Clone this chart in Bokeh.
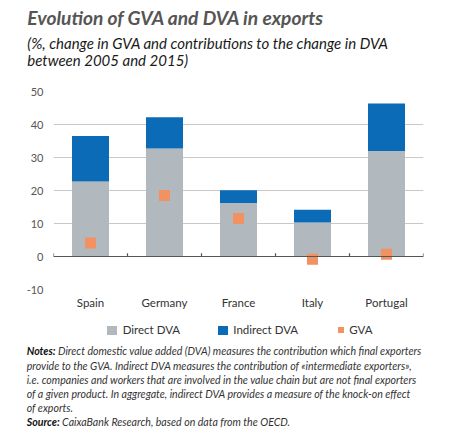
from bokeh.plotting import figure
from bokeh.layouts import column
from bokeh.models import (ColumnDataSource, Range1d, FactorRange, FixedTicker, Span, Div)
from bokeh.transform import dodge
from bokeh.embed import file_html
from bokeh.resources import INLINE

countries = ["Spain", "Germany", "France", "Italy", "Portugal"]
direct_dva = [22.7, 32.7, 16.2, 10.3, 32.0]
indirect_dva = [13.8, 9.5, 3.9, 3.9, 14.4]
gva = [4.1, 18.5, 11.5, -0.8, 0.7]
y_ticks = [-10, 0, 10, 20, 30, 40, 50]
series_names = ["Direct DVA", "Indirect DVA", "GVA"]

title_text = "Evolution of GVA and DVA in exports"
subtitle_lines = ["(%, change in GVA and contributions to the change in DVA",
                  "between 2005 and 2015)"]
notes_lines = [
    ("Notes:", " Direct domestic value added (DVA) measures the contribution which final exporters"),
    ("", "provide to the GVA. Indirect DVA measures the contribution of «intermediate exporters»,"),
    ("", "i.e. companies and workers that are involved in the value chain but are not final exporters"),
    ("", "of a given product. In aggregate, indirect DVA provides a measure of the knock-on effect"),
    ("", "of exports."),
    ("Source:", " CaixaBank Research, based on data from the OECD."),
]

GREY = "#b1b9be"
BLUE = "#0b6bb6"
ORANGE = "#f29162"
series_colors = [GREY, BLUE, ORANGE]

src = ColumnDataSource(dict(country=countries, direct=direct_dva,
                            indirect=indirect_dva, gva=gva))
last_src = ColumnDataSource(dict(country=countries[-1:]))

p = figure(width=474, height=245,
           x_range=FactorRange(*countries), y_range=Range1d(-10, 50),
           output_backend="svg", toolbar_location=None,
           min_border_left=53, min_border_right=51,
           min_border_top=21, min_border_bottom=26)
p.outline_line_color = None

bars = p.vbar_stack(["direct", "indirect"], x="country", width=0.5,
                    color=[GREY, BLUE], line_width=0, source=src)
pts = p.scatter(x="country", y="gva", marker="square", size=11,
                color=ORANGE, line_width=0, source=src)

p.add_layout(Span(location=0, dimension="width", line_color="#555555", line_width=1.2))
p.segment(x0=dodge("country", -0.5, range=p.x_range), y0=0,
          x1=dodge("country", -0.5, range=p.x_range), y1=1,
          line_color="#555555", line_width=1.2, source=src)
p.segment(x0=dodge("country", 0.5, range=p.x_range), y0=0,
          x1=dodge("country", 0.5, range=p.x_range), y1=1,
          line_color="#555555", line_width=1.2, source=last_src)

p.xgrid.visible = False
p.ygrid.ticker = FixedTicker(ticks=y_ticks)
p.ygrid.grid_line_color = "#c9c9c9"

p.yaxis.ticker = FixedTicker(ticks=y_ticks)
p.yaxis.major_label_overrides = {-10: "-10"}
p.yaxis.axis_line_color = None
p.yaxis.major_tick_line_color = None
p.yaxis.minor_tick_line_color = None
p.yaxis.major_tick_out = 0
p.yaxis.major_tick_in = 0
p.yaxis.major_label_standoff = 10
p.yaxis.major_label_text_font = "Lato"
p.yaxis.major_label_text_font_size = "11px"
p.yaxis.major_label_text_color = "#555555"

p.xaxis.axis_line_color = None
p.xaxis.major_tick_line_color = None
p.xaxis.major_tick_out = 0
p.xaxis.major_tick_in = 0
p.xaxis.major_label_standoff = 6
p.xaxis.major_label_text_font = "Lato"
p.xaxis.major_label_text_font_size = "11.5px"
p.xaxis.major_label_text_color = "#333333"


def abs_line(text, left, top, size, weight, color, font="Lato"):
    return (f'<div style="position:absolute;left:{left}px;top:{top}px;'
            f'font-family:{font};font-size:{size}px;line-height:1;'
            f'font-weight:{weight};font-style:italic;color:{color};'
            f'white-space:nowrap;">{text}</div>')


def abs_box(left, top, w, h, color):
    return (f'<div style="position:absolute;left:{left}px;top:{top}px;'
            f'width:{w}px;height:{h}px;background:{color};"></div>')


def abs_text(text, left, top, size, color):
    return (f'<div style="position:absolute;left:{left}px;top:{top}px;'
            f'font-family:Lato;font-size:{size}px;line-height:1;'
            f'color:{color};white-space:nowrap;">{text}</div>')


title_html = ('<div style="position:relative;width:474px;height:70px;">'
              + abs_line(title_text, 27.3, 8.3, 19.2, "bold", "#555555")
              + abs_line(subtitle_lines[0], 27.3, 36.4, 15, "normal", "#1a1a1a")
              + abs_line(subtitle_lines[1], 27.3, 53.4, 15, "normal", "#1a1a1a")
              + '</div>')
title_div = Div(text=title_html, width=474, height=70, margin=0)

# legend strip (canvas y 315..344)
legend_boxes = [(107.3, 10.7, 10, 9.3), (217.7, 10.7, 10, 9.3), (338.3, 12.4, 6, 6)]
legend_text_x = [122.7, 233.3, 349.3]
leg = ['<div style="position:relative;width:474px;height:29px;">']
for name, col, (bx, by, bw, bh), tx in zip(series_names, series_colors,
                                           legend_boxes, legend_text_x):
    leg.append(abs_box(bx, by, bw, bh, col))
    leg.append(abs_text(name, tx, 9.4, 11.5, "#333333"))
leg.append('</div>')
legend_div = Div(text="".join(leg), width=474, height=29, margin=0)

note_tops = [1.9, 16.6, 30.9, 44.9, 59.3, 73.3]
rows = []
for (bold, rest), top in zip(notes_lines, note_tops):
    inner = (f'<b style="color:#111111;">{bold}</b>' if bold else "") + rest
    rows.append(abs_line(inner, 26.7, top, 10.6, "normal", "#333333"))
notes_html = ('<div style="position:relative;width:474px;height:91px;">'
              + "".join(rows) + '</div>')
notes_div = Div(text=notes_html, width=474, height=91, margin=0)

layout = column(title_div, p, legend_div, notes_div, spacing=0)
open("out.html", "w").write(file_html(layout, INLINE))
